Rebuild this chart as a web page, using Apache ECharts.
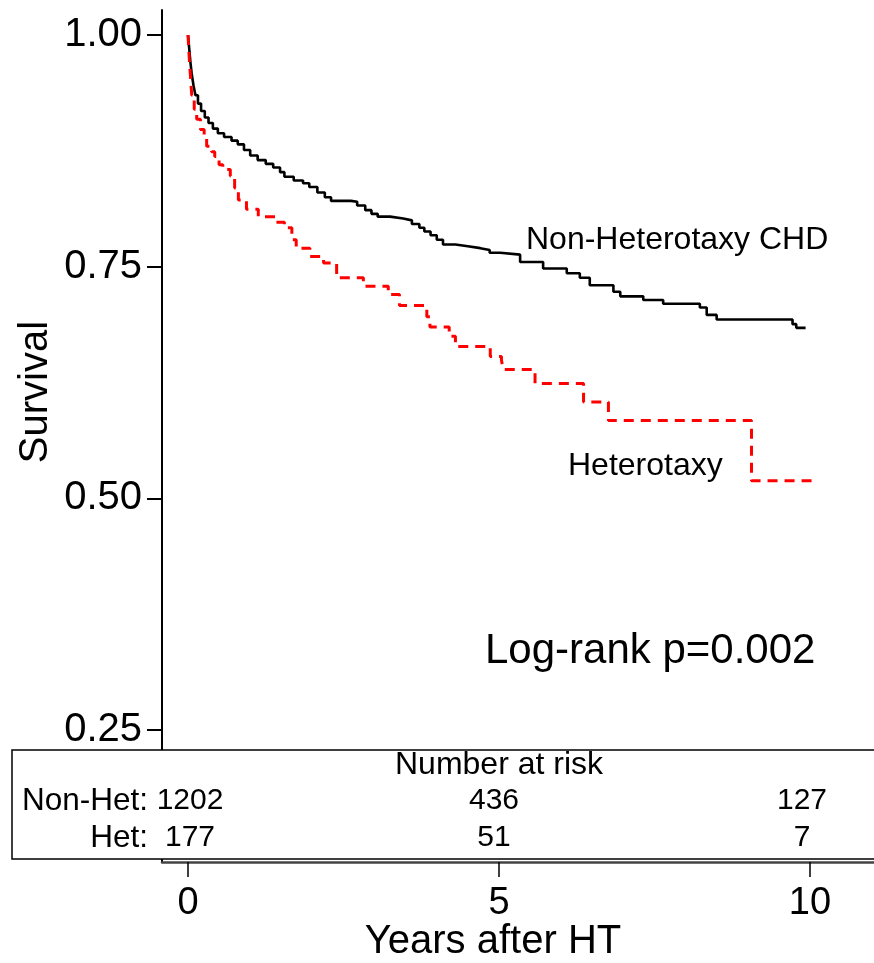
<!DOCTYPE html>
<html>
<head>
<meta charset="utf-8">
<script src="https://cdn.jsdelivr.net/npm/echarts@6/dist/echarts.min.js"></script>
<style>
html,body{margin:0;padding:0;background:#fff;}
#chart{width:874px;height:963px;}
</style>
</head>
<body>
<div id="chart"></div>
<script>
// ---- Data ----
// Non-Heterotaxy CHD Kaplan-Meier steps: [years, survival]
var nonHetTimes = [0,0.02,0.04,0.06,0.09,0.12,0.16,0.21,0.27,0.33,0.40,0.48,0.58,0.70,0.80,0.90,1.00,1.12,1.25,1.37,1.48,1.55,1.70,1.85,1.95,2.08,2.20,2.30,2.62,2.72,2.85,2.95,3.05,3.25,3.46,3.60,3.72,3.80,3.90,4.00,4.10,4.30,4.50,4.70,4.85,5.02,5.34,5.71,6.09,6.30,6.46,6.84,6.95,7.32,7.64,8.23,8.34,8.50,9.72,9.78,9.93];
var nonHetSurv  = [1.000,0.985,0.970,0.958,0.945,0.935,0.926,0.918,0.911,0.905,0.899,0.894,0.890,0.886,0.882,0.876,0.870,0.865,0.861,0.857,0.852,0.847,0.843,0.840,0.836,0.830,0.825,0.821,0.820,0.816,0.811,0.807,0.804,0.802,0.800,0.796,0.792,0.788,0.784,0.779,0.774,0.772,0.770,0.768,0.765,0.763,0.755,0.748,0.743,0.738,0.730,0.723,0.718,0.714,0.710,0.706,0.698,0.693,0.688,0.684,0.684];
// Heterotaxy Kaplan-Meier steps
var hetTimes = [0,0.02,0.04,0.06,0.10,0.14,0.20,0.26,0.30,0.38,0.43,0.50,0.56,0.68,0.75,0.81,0.94,1.13,1.40,1.55,1.67,1.74,1.96,2.18,2.39,2.82,3.22,3.40,3.84,3.89,4.20,4.30,4.86,5.04,5.07,5.58,6.36,6.76,9.06,10.05];
var hetSurv  = [1.000,0.975,0.955,0.935,0.920,0.909,0.898,0.889,0.880,0.874,0.869,0.860,0.855,0.848,0.835,0.822,0.812,0.804,0.798,0.792,0.779,0.770,0.761,0.754,0.738,0.729,0.720,0.708,0.696,0.685,0.675,0.664,0.653,0.649,0.639,0.624,0.604,0.584,0.519,0.519];
// Axis ticks
var yTicks = [0.25, 0.50, 0.75, 1.00];
var xTicks = [0, 5, 10];
// Number at risk table
var riskLabels = ['Non-Het:', 'Het:'];
var nonHetRisk = ['1202', '436', '127'];
var hetRisk = ['177', '51', '7'];
var curveNames = ['Non-Heterotaxy CHD', 'Heterotaxy'];
var pText = 'Log-rank p=0.002';

function zip(a, b) { return a.map(function (v, i) { return [v, b[i]]; }); }

var FONT = 'Liberation Sans, Arial, Helvetica, sans-serif';
var chart = echarts.init(document.getElementById('chart'), null, {renderer: 'canvas'});

function txt(text, x, y, size, align, extra) {
  var o = {
    type: 'text', x: x, y: y, z: 60,
    style: {text: text, fill: '#000', font: size + 'px ' + FONT, textAlign: align, textVerticalAlign: 'middle'}
  };
  if (extra) for (var k in extra) o[k] = extra[k];
  return o;
}

var colX = [190, 494, 802];
var graphics = [
  {type: 'rect', z: 50, shape: {x: 12, y: 750, width: 900, height: 109},
   style: {fill: '#fff', stroke: '#000', lineWidth: 1.5}},
  txt('Number at risk', 499, 765, 32, 'center'),
  txt(riskLabels[0], 148, 801, 31.5, 'right'),
  txt(riskLabels[1], 148, 838, 31.5, 'right'),
  txt(curveNames[0], 526, 240, 32, 'left'),
  txt(curveNames[1], 568, 466, 32, 'left'),
  txt(pText, 485, 651, 42, 'left'),
  txt('Years after HT', 493, 942, 40, 'center'),
  txt('Survival', 36, 392, 40, 'center', {rotation: Math.PI / 2})
];
for (var i = 0; i < 3; i++) {
  graphics.push(txt(nonHetRisk[i], colX[i], 801, 30, 'center'));
  graphics.push(txt(hetRisk[i], colX[i], 838, 30, 'center'));
}

var option = {
  animation: false,
  backgroundColor: '#fff',
  grid: {left: 162, right: 0, top: 10, bottom: 101, containLabel: false},
  xAxis: {
    type: 'value', min: -0.418, max: 11.03,
    splitLine: {show: false},
    axisLine: {show: true, onZero: false, lineStyle: {color: '#444', width: 2.5}},
    axisTick: {show: true, customValues: xTicks, length: 15, lineStyle: {color: '#000', width: 1.5}},
    axisLabel: {show: true, customValues: xTicks, fontSize: 38, fontFamily: FONT, color: '#000', margin: 23}
  },
  yAxis: {
    type: 'value', min: 0.1076, max: 1.027,
    splitLine: {show: false},
    axisLine: {show: true, onZero: false, lineStyle: {color: '#000', width: 2}},
    axisTick: {show: true, customValues: yTicks, length: 15, lineStyle: {color: '#000', width: 2}},
    axisLabel: {show: true, customValues: yTicks, fontSize: 40, fontFamily: FONT, color: '#000', margin: 20,
      formatter: function (v) { return v.toFixed(2); }}
  },
  series: [
    {name: curveNames[0], type: 'line', step: 'end', data: zip(nonHetTimes, nonHetSurv), showSymbol: false,
     lineStyle: {color: '#000', width: 2.6}, z: 3},
    {name: curveNames[1], type: 'line', step: 'end', data: zip(hetTimes, hetSurv), showSymbol: false,
     lineStyle: {color: '#ff0000', width: 3, type: [10, 7]}, z: 4}
  ],
  graphic: graphics
};
chart.setOption(option);
</script>
</body>
</html>
